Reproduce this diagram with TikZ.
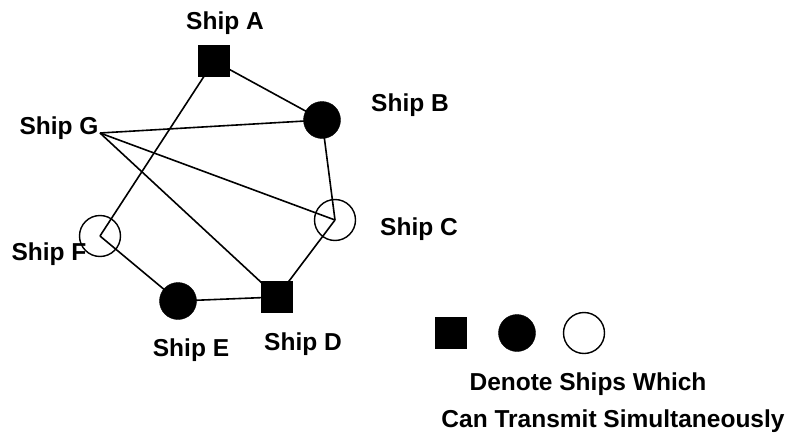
\documentclass[tikz,border=0pt]{standalone}
\usepackage{fontspec}
\setmainfont{Liberation Sans}
\begin{document}
\begin{tikzpicture}[x=1pt,y=-1pt,
  lbl/.style={font=\fontsize{24.5}{28}\selectfont\bfseries, inner sep=0pt},
  sq/.style={draw=black, fill=black, minimum size=31pt, inner sep=0pt, rectangle},
  fc/.style={draw=black, fill=black, circle, minimum size=37pt, inner sep=0pt},
  oc/.style={draw=black, line width=1.4pt, circle, minimum size=41pt, inner sep=0pt},
  edge/.style={line width=1.6pt}]
\useasboundingbox (0,0) rectangle (795,439);
% ship nodes
\node[sq] (A) at (214,61) {};
\node[fc] (B) at (322,120) {};
\node[oc] (C) at (335,220) {};
\node[sq] (D) at (277,297) {};
\node[fc] (E) at (178,301) {};
\node[oc] (F) at (100,236) {};
\coordinate (G) at (100,133);
% connectors
\draw[edge] (A.center) -- (B.center);
\draw[edge] (A.center) -- (F.center);
\draw[edge] (G) -- (B.center);
\draw[edge] (G) -- (C.center);
\draw[edge] (G) -- (D.center);
\draw[edge] (B.center) -- (C.center);
\draw[edge] (C.center) -- (D.center);
\draw[edge] (F.center) -- (E.center);
\draw[edge] (E.center) -- (D.center);
% labels
\node[lbl] (lA) at (225,23) {Ship A};
\node[lbl] (lB) at (410,105) {Ship B};
\node[lbl] (lG) at (59,128) {Ship G};
\node[lbl] (lC) at (419,229) {Ship C};
\node[lbl] (lF) at (49,254) {Ship F};
\node[lbl] (lE) at (191,350) {Ship E};
\node[lbl] (lD) at (303,344) {Ship D};
% legend
\node[sq] (k1) at (451,333) {};
\node[fc] (k2) at (517,333) {};
\node[oc] (k3) at (584,333) {};
\node[lbl] (t1) at (588,384) {Denote Ships Which};
\node[lbl] (t2) at (613,421) {Can Transmit Simultaneously};
\end{tikzpicture}
\end{document}
